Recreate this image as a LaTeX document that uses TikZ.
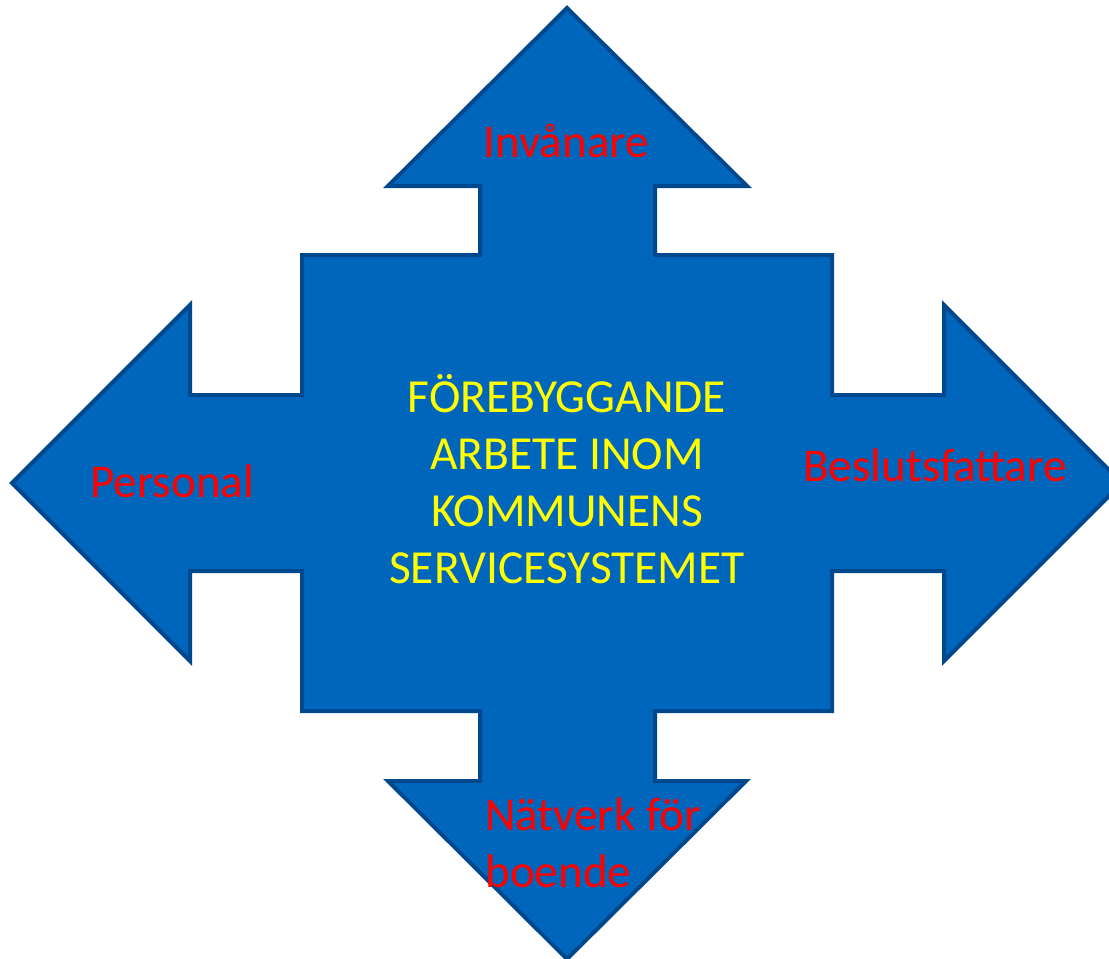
\documentclass[tikz,border=0pt]{standalone}
\usepackage{fontspec}
\setmainfont{Carlito}
\usepackage{xcolor}
\usepackage{tikz}
\definecolor{QABlue}{HTML}{0066BB}
\definecolor{QAEdge}{HTML}{00488E}
\definecolor{QAYellow}{HTML}{FFFF00}
\definecolor{QARed}{HTML}{FF0000}
\tikzset{
  sidelabel/.style={anchor=base west,inner sep=0pt,text=QARed,font=\fontsize{26.8pt}{32.3pt}\selectfont},
  centerlabel/.style={anchor=base,inner sep=0pt,align=center,text=QAYellow,font=\fontsize{27pt}{32.3pt}\selectfont}
}
\begin{document}
\begin{tikzpicture}[x=0.02cm,y=-0.02cm]
\path[use as bounding box] (0,0) rectangle (1109,958);
\draw[QAEdge,fill=QABlue,line width=0.08cm,line join=miter]
  (567,8) -- (747,186) -- (655,186) -- (655,255) -- (832,255) -- (832,395)
  -- (944,395) -- (944,305) -- (1122,483) -- (944,661) -- (944,571) -- (832,571)
  -- (832,711) -- (655,711) -- (655,781) -- (746,781) -- (567,959) -- (388,781)
  -- (480,781) -- (480,711) -- (302,711) -- (302,571) -- (190,571) -- (190,661)
  -- (12,483) -- (190,305) -- (190,395) -- (302,395) -- (302,255) -- (480,255)
  -- (480,186) -- (388,186) -- cycle;
\node[centerlabel] (kommun) at (567,583) {FÖREBYGGANDE\\ARBETE INOM\\KOMMUNENS\\SERVICESYSTEMET};
\node[sidelabel] (invanare) at (483,157) {Invånare};
\node[sidelabel] (personal) at (90,497) {Personal};
\node[sidelabel] (beslut) at (803,481) {Beslutsfattare};
\node[sidelabel,align=left] (natverk) at (485,887) {Nätverk för\\boende};
\end{tikzpicture}
\end{document}
